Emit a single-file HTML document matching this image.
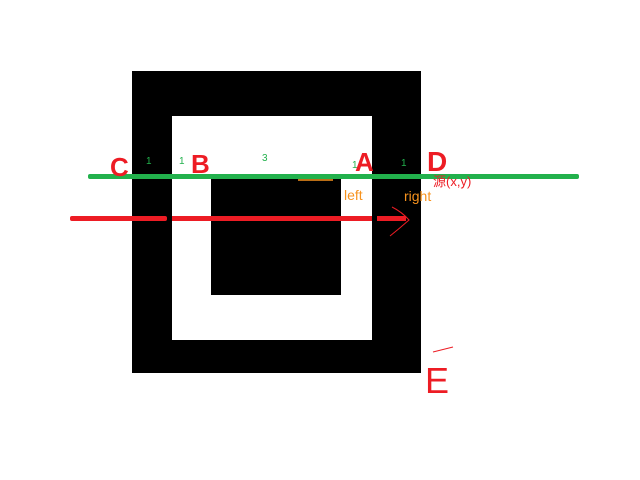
<!DOCTYPE html>
<html><head><meta charset="utf-8"><style>
html,body{margin:0;padding:0;background:#fff;width:640px;height:480px;overflow:hidden}
</style></head><body>
<svg width="640" height="480" viewBox="0 0 640 480" xmlns="http://www.w3.org/2000/svg" style="font-family:'Liberation Sans','Noto Sans CJK SC',sans-serif">
<rect x="0" y="0" width="640" height="480" fill="#fff"/>
<rect x="132" y="71" width="289" height="302" fill="#000"/>
<rect x="172" y="116" width="200" height="224" fill="#fff"/>
<rect x="211" y="179" width="130" height="116" fill="#000"/>
<line x1="298" y1="180" x2="333" y2="180" stroke="#f7931e" stroke-width="1.5"/>
<rect x="88" y="174" width="491" height="5" rx="2" fill="#22b14c"/>
<g>
<rect x="70" y="216" width="97" height="5" rx="2" fill="#ed1c24"/>
<rect x="172" y="216" width="200" height="5" fill="#ed1c24"/>
<rect x="377" y="216" width="29" height="5" fill="#ed1c24"/>
<path d="M392 207 Q402 212 409 220 Q400 228 390 236" fill="none" stroke="#ed1c24" stroke-width="1"/>
</g>
<g fill="#22b14c" font-size="10">
<text x="146" y="164">1</text><text x="179" y="164">1</text><text x="262" y="161">3</text><text x="352" y="168">1</text><text x="401" y="166">1</text>
</g>
<g fill="#ed1c24" font-weight="bold" font-size="26">
<text x="110" y="176">C</text><text x="191" y="173">B</text><text x="355" y="171">A</text><text x="427" y="171" font-size="28">D</text><text x="425" y="393" font-size="36" font-weight="normal">E</text>
</g>
<line x1="433" y1="352" x2="453" y2="347" stroke="#ed1c24" stroke-width="1"/>
<text x="344" y="200" fill="#f7931e" font-size="14">left</text>
<text x="404" y="201" fill="#f7931e" font-size="14">right</text>
<text x="433" y="186" fill="#ed1c24" font-size="13">源(x,y)</text>
</svg>
</body></html>
